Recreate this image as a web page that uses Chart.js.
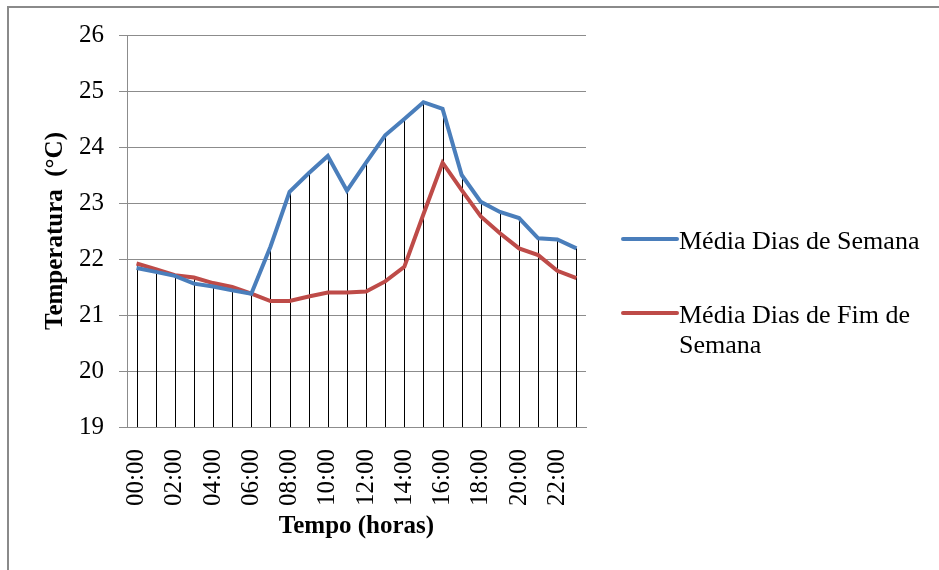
<!DOCTYPE html>
<html>
<head>
<meta charset="utf-8">
<script src="https://cdn.jsdelivr.net/npm/chart.js@4/dist/chart.umd.min.js"></script>
<style>
	body { margin: 0; background: #fff; }
	#moldura { position: absolute; left: 7px; top: 6px; width: 1000px; height: 600px; border-left: 2px solid #8a8a8a; border-top: 2px solid #8a8a8a; }
	#grafico { position: absolute; left: 0; top: 0; }
</style>
</head>
<body>
<div id="moldura"></div>
<canvas id="grafico" width="939" height="570"></canvas>
<script>
var horas = ["00:00", "01:00", "02:00", "03:00", "04:00", "05:00", "06:00", "07:00",
	"08:00", "09:00", "10:00", "11:00", "12:00", "13:00", "14:00", "15:00",
	"16:00", "17:00", "18:00", "19:00", "20:00", "21:00", "22:00", "23:00"];

var mediaSemana = [21.84, 21.77, 21.70, 21.56, 21.51, 21.44, 21.38, 22.22,
	23.20, 23.53, 23.84, 23.22, 23.72, 24.21, 24.50, 24.80,
	24.68, 23.50, 23.02, 22.84, 22.73, 22.37, 22.35, 22.19];

var mediaFimSemana = [21.92, 21.82, 21.71, 21.67, 21.57, 21.50, 21.38, 21.25,
	21.25, 21.33, 21.40, 21.40, 21.42, 21.60, 21.86, 22.80,
	23.72, 23.23, 22.76, 22.46, 22.19, 22.07, 21.79, 21.66];

var eixoY = { min: 19, max: 26, passo: 1 };

var fonte = "'Liberation Serif', 'Times New Roman', serif";

// vertical lines from the highest point of each hour down to the x axis
var linhasDeQueda = {
	id: "linhasDeQueda",
	beforeDatasetsDraw: function (chart) {
		var ctx = chart.ctx;
		var x = chart.scales.x;
		var y = chart.scales.y;
		ctx.save();
		ctx.strokeStyle = "#000";
		ctx.lineWidth = 1;
		for (let i = 0; i < horas.length; i++) {
			var topo = Math.max.apply(null, chart.data.datasets.map(d => d.data[i]));
			var px = Math.round(x.getPixelForValue(i)) + 0.5;
			ctx.beginPath();
			ctx.moveTo(px, y.getPixelForValue(topo));
			ctx.lineTo(px, chart.chartArea.bottom);
			ctx.stroke();
		}
		ctx.restore();
	}
};

// legend on the right, with the long label wrapped onto two lines
var legenda = {
	id: "legenda",
	afterDraw: function (chart) {
		var ctx = chart.ctx;
		var xLinha = chart.chartArea.right + 37;
		var xTexto = xLinha + 56;
		var maxLargura = chart.width - xTexto - 6;
		var posicoes = [239, 313];
		ctx.save();
		ctx.font = "26px " + fonte;
		ctx.fillStyle = "#000";
		ctx.textBaseline = "alphabetic";
		chart.data.datasets.forEach(function (ds, k) {
			var yl = posicoes[k];
			ctx.strokeStyle = ds.borderColor;
			ctx.lineWidth = 4;
			ctx.lineCap = "round";
			ctx.beginPath();
			ctx.moveTo(xLinha, yl);
			ctx.lineTo(xTexto - 2, yl);
			ctx.stroke();

			var palavras = ds.label.split(" ");
			var linhas = [];
			var atual = "";
			palavras.forEach(function (p) {
				var teste = atual ? atual + " " + p : p;
				if (ctx.measureText(teste).width > maxLargura && atual) {
					linhas.push(atual);
					atual = p;
				} else {
					atual = teste;
				}
			});
			linhas.push(atual);
			linhas.forEach(function (l, j) {
				ctx.fillText(l, xTexto, yl + 10 + j * 30);
			});
		});
		ctx.restore();
	}
};

var ctx = document.getElementById("grafico").getContext("2d");

var grafico = new Chart(ctx, {
	type: "line",
	data: {
		labels: horas,
		datasets: [
			{
				label: "Média Dias de Semana",
				data: mediaSemana,
				borderColor: "#4a7ebb",
				backgroundColor: "#4a7ebb",
				borderWidth: 4,
				pointRadius: 0,
				tension: 0,
				fill: false
			},
			{
				label: "Média Dias de Fim de Semana",
				data: mediaFimSemana,
				borderColor: "#be4b48",
				backgroundColor: "#be4b48",
				borderWidth: 4,
				pointRadius: 0,
				tension: 0,
				fill: false
			}
		]
	},
	options: {
		responsive: false,
		animation: false,
		devicePixelRatio: 1,
		layout: { padding: { top: 35, right: 353, left: 0, bottom: 0 } },
		plugins: {
			legend: { display: false },
			tooltip: { enabled: false }
		},
		scales: {
			x: {
				offset: true,
				grid: { display: false },
				border: { color: "#8c8c8c", width: 1 },
				ticks: {
					autoSkip: false,
					minRotation: 90,
					maxRotation: 90,
					padding: 14,
					color: "#000",
					font: { family: fonte, size: 25 },
					callback: function (v, i) { return i % 2 === 0 ? horas[i] : ""; }
				},
				title: {
					display: true,
					text: "Tempo (horas)",
					color: "#000",
					font: { family: fonte, size: 25, weight: "bold" },
					padding: { top: 0, bottom: 28 }
				},
				afterFit: function (scale) { scale.height = 143; }
			},
			y: {
				min: eixoY.min,
				max: eixoY.max,
				grid: { color: "#8c8c8c", tickLength: 8, lineWidth: 1 },
				border: { color: "#8c8c8c", width: 1 },
				ticks: {
					stepSize: eixoY.passo,
					padding: 15,
					color: "#000",
					font: { family: fonte, size: 25 }
				},
				title: {
					display: true,
					text: "Temperatura  (°C)",
					color: "#000",
					font: { family: fonte, size: 25, weight: "bold" },
					padding: { top: 41, bottom: 0 }
				},
				afterFit: function (scale) { scale.width = 127; }
			}
		}
	},
	plugins: [linhasDeQueda, legenda]
});
</script>
</body>
</html>
